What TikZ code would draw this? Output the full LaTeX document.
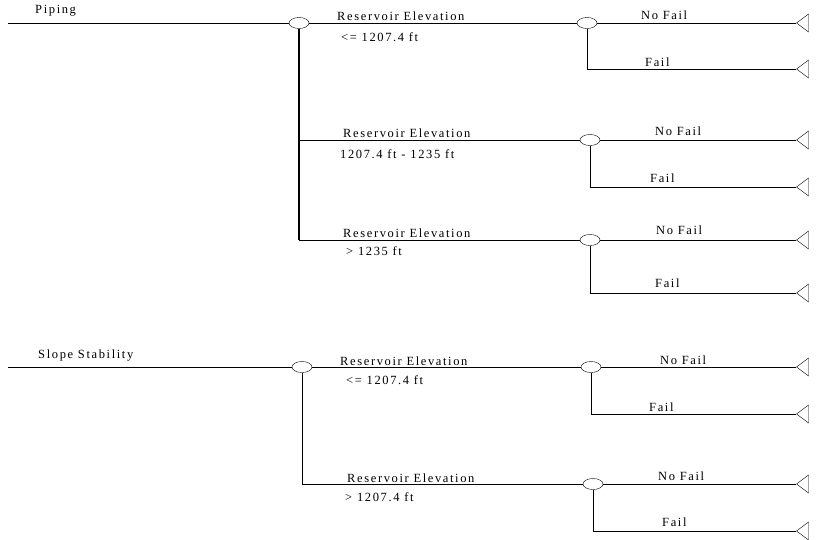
\documentclass[tikz,border=0pt]{standalone}
\usepackage{fontspec}
\setmainfont{Liberation Serif}[LetterSpace=13]
\usepackage{tikz}
\usetikzlibrary{shapes.geometric}

\begin{document}
\begin{tikzpicture}[x=1pt, y=-1pt, font=\fontsize{12.5}{14}\selectfont,
    c/.style={draw, ellipse, fill=white, minimum width=20pt, minimum height=11pt, inner sep=0pt},
    e/.style={draw, isosceles triangle, isosceles triangle stretches, shape border rotate=180,
      minimum width=18pt, minimum height=12pt, inner sep=0pt},
    t/.style={anchor=west, inner sep=0pt},
    ln/.style={line width=0.9pt},
    tr/.style={line width=1.4pt}]
    \useasboundingbox (0,0) rectangle (817,539);

    % Piping
    \coordinate (pin) at (8,23);
    \node[c] (p0) at (299,23) {};
    \node[c] (p1) at (587,23) {};
    \node[c] (p2) at (590,140) {};
    \node[c] (p3) at (590,240) {};
    \node[e, anchor=apex] (p1n) at (796,23) {};
    \node[e, anchor=apex] (p1f) at (796,69) {};
    \node[e, anchor=apex] (p2n) at (796,140) {};
    \node[e, anchor=apex] (p2f) at (796,187) {};
    \node[e, anchor=apex] (p3n) at (796,240) {};
    \node[e, anchor=apex] (p3f) at (796,293) {};
    \draw[ln] (pin) -- (p0);
    \draw[ln] (p0) -- (p1);
    \draw[tr] (p0.south) -- (p0.south |- p3);
    \draw[ln] (p0.south |- p2) -- (p2);
    \draw[ln] (p0.south |- p3) -- (p3);
    \draw[ln] (p1) -- (p1n); \draw[ln] (p1.south) |- (p1f);
    \draw[ln] (p2) -- (p2n); \draw[ln] (p2.south) |- (p2f);
    \draw[ln] (p3) -- (p3n); \draw[ln] (p3.south) |- (p3f);
    \node[t] (pt) at (35,11) {Piping};
    \node[t] (p1a) at (337,16) {Reservoir Elevation};
    \node[t] (p1b) at (341,37) {<= 1207.4 ft};
    \node[t] (p2a) at (343,133) {Reservoir Elevation};
    \node[t] (p2b) at (340,154) {1207.4 ft - 1235 ft};
    \node[t] (p3a) at (343,233) {Reservoir Elevation};
    \node[t] (p3b) at (346,251) {> 1235 ft};
    \node[t] (p1nl) at (641,15) {No Fail};
    \node[t] (p1fl) at (645,62) {Fail};
    \node[t] (p2nl) at (655,131) {No Fail};
    \node[t] (p2fl) at (650,178) {Fail};
    \node[t] (p3nl) at (656,230) {No Fail};
    \node[t] (p3fl) at (655,283) {Fail};

    % Slope Stability
    \coordinate (sin) at (8,367);
    \node[c] (s0) at (302,367) {};
    \node[c] (s1) at (591,367) {};
    \node[c] (s2) at (593,484) {};
    \node[e, anchor=apex] (s1n) at (796,367) {};
    \node[e, anchor=apex] (s1f) at (796,414) {};
    \node[e, anchor=apex] (s2n) at (796,484) {};
    \node[e, anchor=apex] (s2f) at (796,531) {};
    \draw[ln] (sin) -- (s0);
    \draw[ln] (s0) -- (s1);
    \draw[ln] (s0.south) |- (s2);
    \draw[ln] (s1) -- (s1n); \draw[ln] (s1.south) |- (s1f);
    \draw[ln] (s2) -- (s2n); \draw[ln] (s2.south) |- (s2f);
    \node[t] (st) at (38,356) {Slope Stability};
    \node[t] (s1a) at (340,361) {Reservoir Elevation};
    \node[t] (s1b) at (346,380) {<= 1207.4 ft};
    \node[t] (s2a) at (347,478) {Reservoir Elevation};
    \node[t] (s2b) at (345,497) {> 1207.4 ft};
    \node[t] (s1nl) at (660,360) {No Fail};
    \node[t] (s1fl) at (649,407) {Fail};
    \node[t] (s2nl) at (658,476) {No Fail};
    \node[t] (s2fl) at (662,522) {Fail};
  \end{tikzpicture}
\end{document}
